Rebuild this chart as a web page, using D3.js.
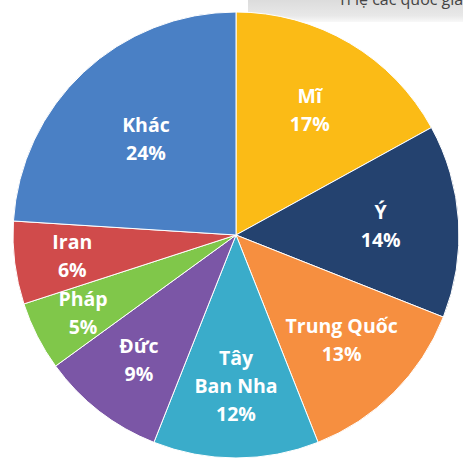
<!DOCTYPE html>
<html>
<head>
<meta charset="utf-8">
<script src="https://cdn.jsdelivr.net/npm/d3@7"></script>
<style>
  body { margin: 0; background: #fff; }
  svg { display: block; }
  .slice-label { font-family: "Open Sans", sans-serif; font-weight: 700; fill: #fff; }
</style>
</head>
<body>
<div id="chart"></div>
<script>
// Countries and share of cases (%), clockwise from 12 o'clock
const countries = ['Mĩ', 'Ý', 'Trung Quốc', 'Tây Ban Nha', 'Đức', 'Pháp', 'Iran', 'Khác'];
const shares = [17, 14, 13, 12, 9, 5, 6, 24];
const labelLines = [['Mĩ'], ['Ý'], ['Trung Quốc'], ['Tây', 'Ban Nha'], ['Đức'], ['Pháp'], ['Iran'], ['Khác']];
const colors = ['#fbbb16', '#24426f', '#f68f40', '#3aacca', '#7b56a6', '#80c74a', '#d04b4b', '#4a80c5'];

const config = {
    width: 463,
    height: 461,
    cx: 236,
    cy: 235,
    radius: 223,
    fontSize: 19.5,
    lineHeight: 28,
    // label distance from center, as share of the radius
    labelRadius: {'Mĩ': 0.65, 'Ý': 0.65, 'Trung Quốc': 0.67, 'Tây Ban Nha': 0.68, 'Đức': 0.71, 'Pháp': 0.77, 'Iran': 0.74, 'Khác': 0.59}
};

const data = countries.map((c, i) => ({name: c, value: shares[i], lines: labelLines[i], color: colors[i]}));

const svg = d3.select('#chart').append('svg')
    .attr('width', config.width)
    .attr('height', config.height);

// grey caption strip at top right (cut off by the frame, as in the source)
const defs = svg.append('defs');
const grad = defs.append('linearGradient')
    .attr('id', 'strip')
    .attr('x1', 0).attr('y1', 0).attr('x2', 0).attr('y2', 1);
grad.append('stop').attr('offset', 0).attr('stop-color', '#dcdcdc');
grad.append('stop').attr('offset', 0.7).attr('stop-color', '#e8e8e8');
grad.append('stop').attr('offset', 1).attr('stop-color', '#f8f8f8');

svg.append('rect')
    .attr('x', 248).attr('y', 0)
    .attr('width', config.width - 248).attr('height', 22)
    .attr('fill', 'url(#strip)');

svg.append('text')
    .attr('x', 338).attr('y', 5)
    .style('font-family', '"Open Sans", sans-serif')
    .style('font-size', '16px')
    .attr('fill', '#444')
    .text('Tỉ lệ các quốc gia');

const chart = svg.append('g')
    .attr('transform', `translate(${config.cx},${config.cy})`);

const pie = d3.pie()
    .value(d => d.value)
    .sort(null);

const arc = d3.arc()
    .innerRadius(0)
    .outerRadius(config.radius);

const arcs = pie(data);

chart.selectAll('.slice')
    .data(arcs)
    .join('path')
    .attr('class', 'slice')
    .attr('d', arc)
    .attr('fill', d => d.data.color)
    .attr('stroke', '#fff')
    .attr('stroke-width', 1);

const labels = chart.selectAll('.slice-label')
    .data(arcs)
    .join('text')
    .attr('class', 'slice-label')
    .attr('text-anchor', 'middle')
    .style('font-size', config.fontSize + 'px')
    .attr('transform', d => {
        const r = config.radius * config.labelRadius[d.data.name];
        const c = d3.arc().innerRadius(r).outerRadius(r).centroid(d);
        return `translate(${c[0]},${c[1]})`;
    });

labels.each(function(d) {
    const lines = d.data.lines.concat([d.data.value + '%']);
    const top = -(lines.length - 1) * config.lineHeight / 2;
    d3.select(this).selectAll('tspan')
        .data(lines)
        .join('tspan')
        .attr('x', 0)
        .attr('y', (l, i) => top + i * config.lineHeight)
        .attr('dy', '0.35em')
        .text(l => l);
});
</script>
</body>
</html>
